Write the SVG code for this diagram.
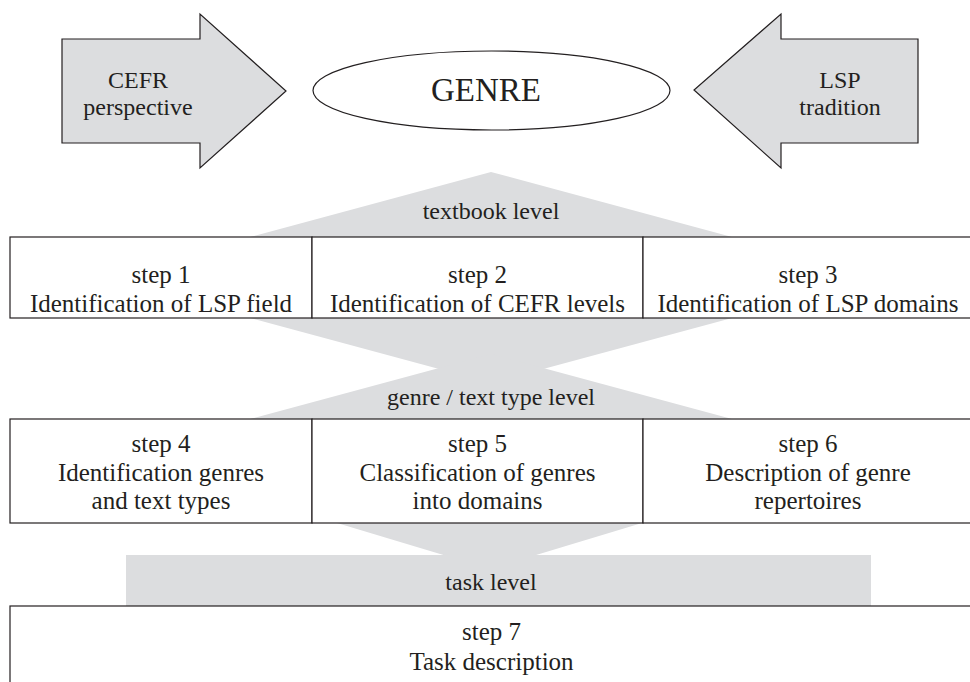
<svg xmlns="http://www.w3.org/2000/svg" width="970" height="682" viewBox="0 0 970 682">
<style>
text{font-family:'Liberation Serif','Times New Roman',serif;fill:#231f20;text-anchor:middle}
.s{font-size:25px}
.band{fill:#dcdddf;stroke:none}
.box{fill:#ffffff;stroke:#231f20;stroke-width:1.2}
.arrow{fill:#dcdddf;stroke:#231f20;stroke-width:1.2;stroke-linejoin:miter}
</style>
<rect width="970" height="682" fill="#ffffff"/>
<g id="connectors">
<polygon class="band" points="250,237 732,237 491,172"/>
<polygon class="band" points="250,318 732,318 491,383"/>
<polygon class="band" points="250,419 732,419 491,354"/>
<polygon class="band" points="337,523 642,523 490,569"/>
<rect class="band" x="126" y="555" width="745" height="51"/>
</g>
<g id="cefr">
<polygon class="arrow" points="62,39 200,39 200,14 286,91 200,168 200,143 62,143"/>
<text font-size="24" x="138" y="88">CEFR</text>
<text font-size="24" x="138" y="115">perspective</text>
</g>
<g id="genre">
<ellipse cx="491.5" cy="90.5" rx="178.5" ry="39.5" fill="#ffffff" stroke="#231f20" stroke-width="1.2"/>
<text font-size="33" x="486" y="101">GENRE</text>
</g>
<g id="lsp">
<polygon class="arrow" points="918,39 781,39 781,14 694,90 781,168 781,143 918,143"/>
<text font-size="24" x="840" y="88">LSP</text>
<text font-size="24" x="840" y="115">tradition</text>
</g>
<g id="textbook-level">
<text font-size="24" x="491" y="219">textbook level</text>
</g>
<g id="step1">
<rect class="box" x="10" y="237" width="302" height="81"/>
<text class="s" x="161" y="283">step 1</text>
<text class="s" x="161" y="312">Identification of LSP field</text>
</g>
<g id="step2">
<rect class="box" x="312" y="237" width="331" height="81"/>
<text class="s" x="477.5" y="283">step 2</text>
<text class="s" x="477.5" y="312">Identification of CEFR levels</text>
</g>
<g id="step3">
<rect class="box" x="643" y="237" width="332" height="81"/>
<text class="s" x="808" y="283">step 3</text>
<text class="s" x="808" y="312">Identification of LSP domains</text>
</g>
<g id="genre-level">
<text font-size="24" x="491" y="405">genre / text type level</text>
</g>
<g id="step4">
<rect class="box" x="10" y="419" width="302" height="104"/>
<text class="s" x="161" y="452">step 4</text>
<text class="s" x="161" y="481">Identification genres</text>
<text class="s" x="161" y="509">and text types</text>
</g>
<g id="step5">
<rect class="box" x="312" y="419" width="331" height="104"/>
<text class="s" x="477.5" y="452">step 5</text>
<text class="s" x="477.5" y="481">Classification of genres</text>
<text class="s" x="477.5" y="509">into domains</text>
</g>
<g id="step6">
<rect class="box" x="643" y="419" width="332" height="104"/>
<text class="s" x="808" y="452">step 6</text>
<text class="s" x="808" y="481">Description of genre</text>
<text class="s" x="808" y="509">repertoires</text>
</g>
<g id="task-level">
<text font-size="24" x="491" y="590">task level</text>
</g>
<g id="step7">
<rect class="box" x="10" y="606" width="965" height="90"/>
<text class="s" x="491.5" y="640">step 7</text>
<text class="s" x="491.5" y="670">Task description</text>
</g>
</svg>
